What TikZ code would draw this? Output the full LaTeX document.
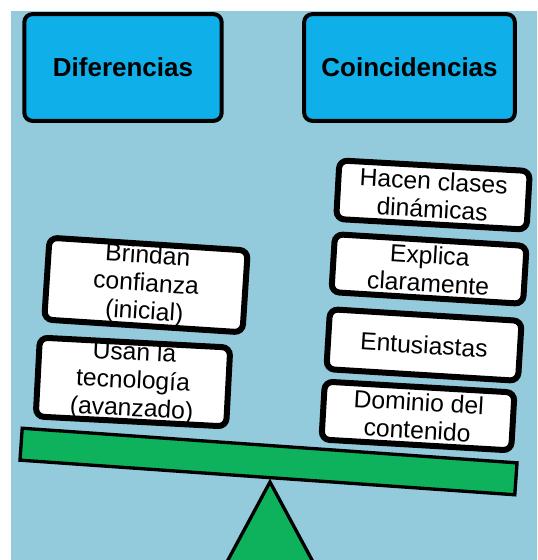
\documentclass[tikz,border=0pt]{standalone}
\usepackage{fontspec}
\setmainfont{Liberation Sans}
\definecolor{fondo}{HTML}{94CBDC}
\definecolor{azul}{HTML}{0FB0EA}
\definecolor{verde}{HTML}{0EB25C}
\begin{document}
\begin{tikzpicture}[x=0.75pt,y=-0.75pt,
    titulo/.style={draw=black,fill=azul,line width=3pt,rounded corners=6pt,
        minimum height=80pt,inner sep=0pt,font=\fontsize{19.5}{19.5}\selectfont\bfseries},
    tarjeta/.style={draw=black,fill=white,line width=4.5pt,rounded corners=6pt,
        inner sep=0pt,align=center,font=\fontsize{18.5}{21}\selectfont},
    barra/.style={draw=black,fill=verde,line width=2.5pt,inner sep=0pt}]
    \useasboundingbox (0,0) rectangle (537,560);
    \clip (0,0) rectangle (537,560);

    % 背景を描画
    \fill[fondo] (11,11) rectangle (537,560);

    % 見出しを描画
    \node[titulo,minimum width=148pt] (dif) at (123,67.5) {Diferencias};
    \node[titulo,minimum width=158pt] (coin) at (409.5,67.5) {Coincidencias};

    % 支点を描画
    \draw[barra] (270,482) -- (207,599) -- (333,599) -- cycle;

    % 天秤の棒を描画
    \node[barra,rotate=-4,minimum width=372pt,minimum height=24pt] (viga) at (268.5,461.5) {};

    % 左側のカードを描画
    \node[tarjeta,rotate=-3.7,minimum width=149pt,minimum height=61.5pt] (confianza) at (146,285)
        {Brindan\\confianza\\(inicial)};
    \node[tarjeta,rotate=-3,minimum width=143pt,minimum height=59pt] (tecnologia) at (133,382)
        {Usan la\\tecnología\\(avanzado)};

    % 右側のカードを描画
    \node[tarjeta,rotate=-3.2,minimum width=143pt,minimum height=44pt] (dinamicas) at (433,195)
        {Hacen clases\\dinámicas};
    \node[tarjeta,rotate=-3.5,minimum width=144pt,minimum height=43.5pt] (explica) at (429,269)
        {Explica\\claramente};
    \node[tarjeta,rotate=-3.5,minimum width=144pt,minimum height=45pt] (entusiastas) at (424,345)
        {Entusiastas};
    \node[tarjeta,rotate=-3.3,minimum width=142.5pt,minimum height=43.5pt] (dominio) at (418,416)
        {Dominio del\\contenido};
\end{tikzpicture}
\end{document}
